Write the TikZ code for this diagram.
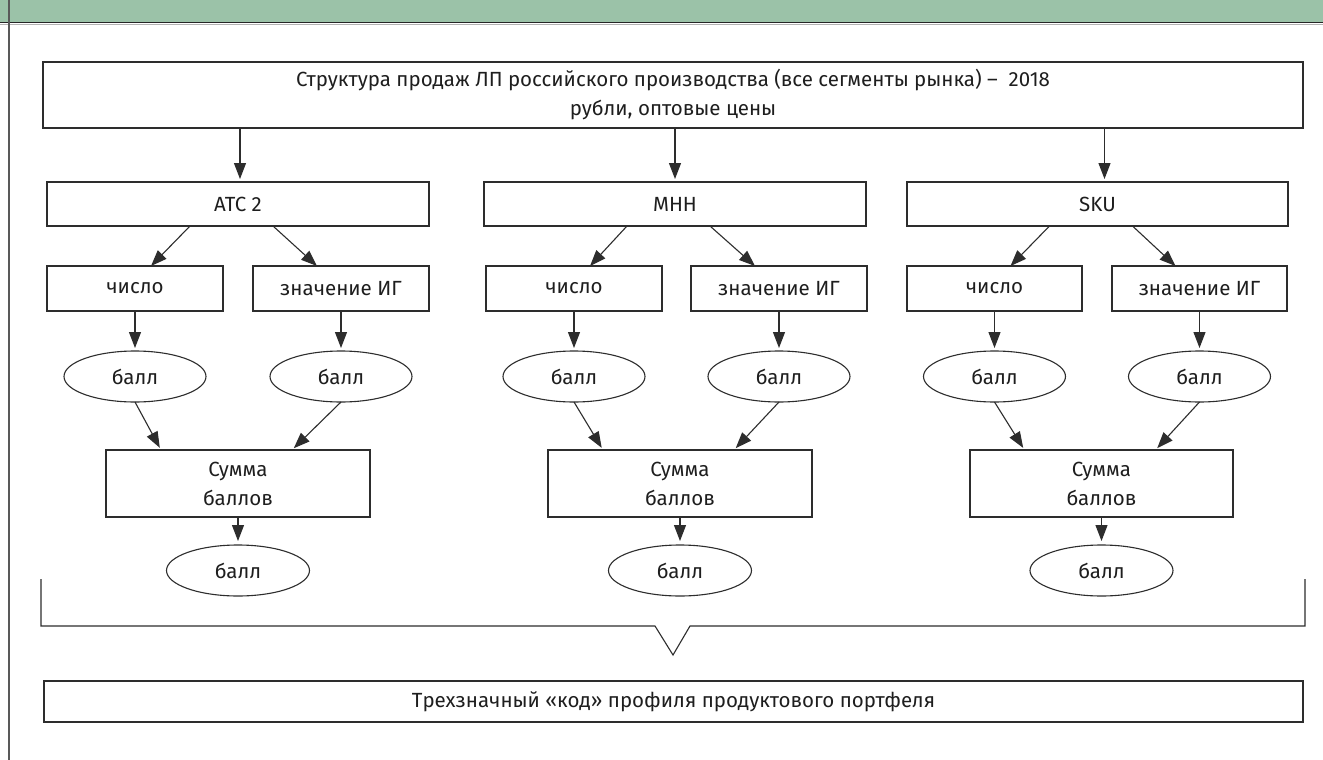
\documentclass[tikz,border=0pt]{standalone}
\usepackage{fontspec}
\setmainfont{Fira Sans}
\usetikzlibrary{shapes.geometric,arrows.meta}
\definecolor{hdr}{RGB}{155,194,168}
\definecolor{ln}{RGB}{45,45,45}
\definecolor{txt}{RGB}{30,30,30}
\newcommand{\fsz}{\fontsize{20.5}{29}\selectfont}
\begin{document}
\begin{tikzpicture}[x=1pt,y=-1pt,
  box/.style={draw=ln, line width=1.2pt, inner sep=0pt, outer sep=0pt, text=txt, font=\fsz, align=center},
  ell/.style={ellipse, draw=ln, line width=1.1pt, inner sep=0pt, outer sep=0pt, text=txt, font=\fsz, minimum width=142pt, minimum height=51pt},
  arr/.style={draw=ln, line width=1.1pt, -{Triangle[length=16pt,width=12pt]}},
  lvltwo/.style={box, minimum width=382pt, minimum height=44pt},
  lvlthree/.style={box, minimum width=176pt, minimum height=45pt},
  sumbox/.style={box, minimum width=264pt, minimum height=67pt}]
\useasboundingbox (0,0) rectangle (1323,760);
\fill[white] (0,0) rectangle (1323,760);
% header
\fill[hdr] (0,0) rectangle (1323,22);
\draw[line width=1.6pt, black!85] (0,22.5) -- (1323,22.5);
\draw[line width=0.8pt, black!30] (0,24) -- (1323,24);
\draw[line width=2pt, black!65] (8.5,0) -- (8.5,760);
% top
\node[box, minimum width=1260pt, minimum height=66pt] (top) at (673,95)
  {Структура продаж ЛП российского производства (все сегменты рынка) –\ \ 2018\\рубли, оптовые цены};
% level 2
\node[lvltwo] (atc) at (238,204) {АТС 2};
\node[lvltwo] (mhh) at (675,204) {МНН};
\node[lvltwo, minimum width=381pt] (sku) at (1097.5,204) {SKU};
% level 3
\node[lvlthree] (c1) at (135,288.5) {число};
\node[lvlthree] (z1) at (341,288.5) {значение ИГ};
\node[lvlthree] (c2) at (574,288.5) {число};
\node[lvlthree] (z2) at (779,288.5) {значение ИГ};
\node[lvlthree, minimum width=175pt] (c3) at (994.5,288.5) {число};
\node[lvlthree, minimum width=175pt] (z3) at (1199.5,288.5) {значение ИГ};
% ellipses
\node[ell] (b11) at (135,376.5) {балл};
\node[ell] (b12) at (341,376.5) {балл};
\node[ell] (b21) at (574,376.5) {балл};
\node[ell] (b22) at (779,376.5) {балл};
\node[ell] (b31) at (994.5,376.5) {балл};
\node[ell] (b32) at (1199.5,376.5) {балл};
% sums
\node[sumbox] (s1) at (238,483.5) {Сумма\\баллов};
\node[sumbox] (s2) at (680,483.5) {Сумма\\баллов};
\node[sumbox, minimum width=263pt] (s3) at (1101.5,483.5) {Сумма\\баллов};
% results
\node[ell, minimum width=143pt] (r1) at (238,570.5) {балл};
\node[ell, minimum width=143pt] (r2) at (680,570.5) {балл};
\node[ell, minimum width=143pt] (r3) at (1101.5,570.5) {балл};
% bottom box
\node[box, minimum width=1259pt, minimum height=41pt] (code) at (673.5,701.5)
  {Трехзначный «код» профиля продуктового портфеля};
% arrows top -> level 2
\coordinate (t1) at ([xshift=2pt]atc.north);
\coordinate (t2) at (mhh.north);
\coordinate (t3) at ([xshift=7pt]sku.north);
\foreach \t in {t1,t2,t3} \draw[arr, shorten >=3pt] (\t |- top.south) -- (\t);
% level 2 -> level 3
\foreach \p/\c/\z in {atc/c1/z1, mhh/c2/z2, sku/c3/z3} {
  \draw[arr] ([xshift=-48pt]\p.south) -- ([xshift=16pt]\c.north);
  \draw[arr] ([xshift=35pt]\p.south) -- ([xshift=-24pt]\z.north);
}
% level 3 -> ellipses
\foreach \a/\b in {c1/b11, z1/b12, c2/b21, z2/b22, c3/b31, z3/b32}
  \draw[arr, shorten >=3pt] (\a.south) -- (\b.north);
% ellipses -> sums
\foreach \a/\b/\s in {b11/b12/s1, b21/b22/s2, b31/b32/s3} {
  \draw[arr, shorten >=2.5pt] (\a.south) -- ([xshift=-77pt]\s.north);
  \draw[arr, shorten >=2.5pt] (\b.south) -- ([xshift=54pt]\s.north);
}
% sums -> results
\foreach \s/\r in {s1/r1, s2/r2, s3/r3}
  \draw[arr, shorten >=4pt] (\s.south) -- (\r.north);
% bracket
\coordinate (bl) at (41,579);
\coordinate (br) at (1305,579);
\draw[draw=ln, line width=1.1pt, line join=miter]
  (bl) -- (41,626) -- (655,626) -- (673,655) -- (690,626) -- (1305,626) -- (br);
\end{tikzpicture}
\end{document}
